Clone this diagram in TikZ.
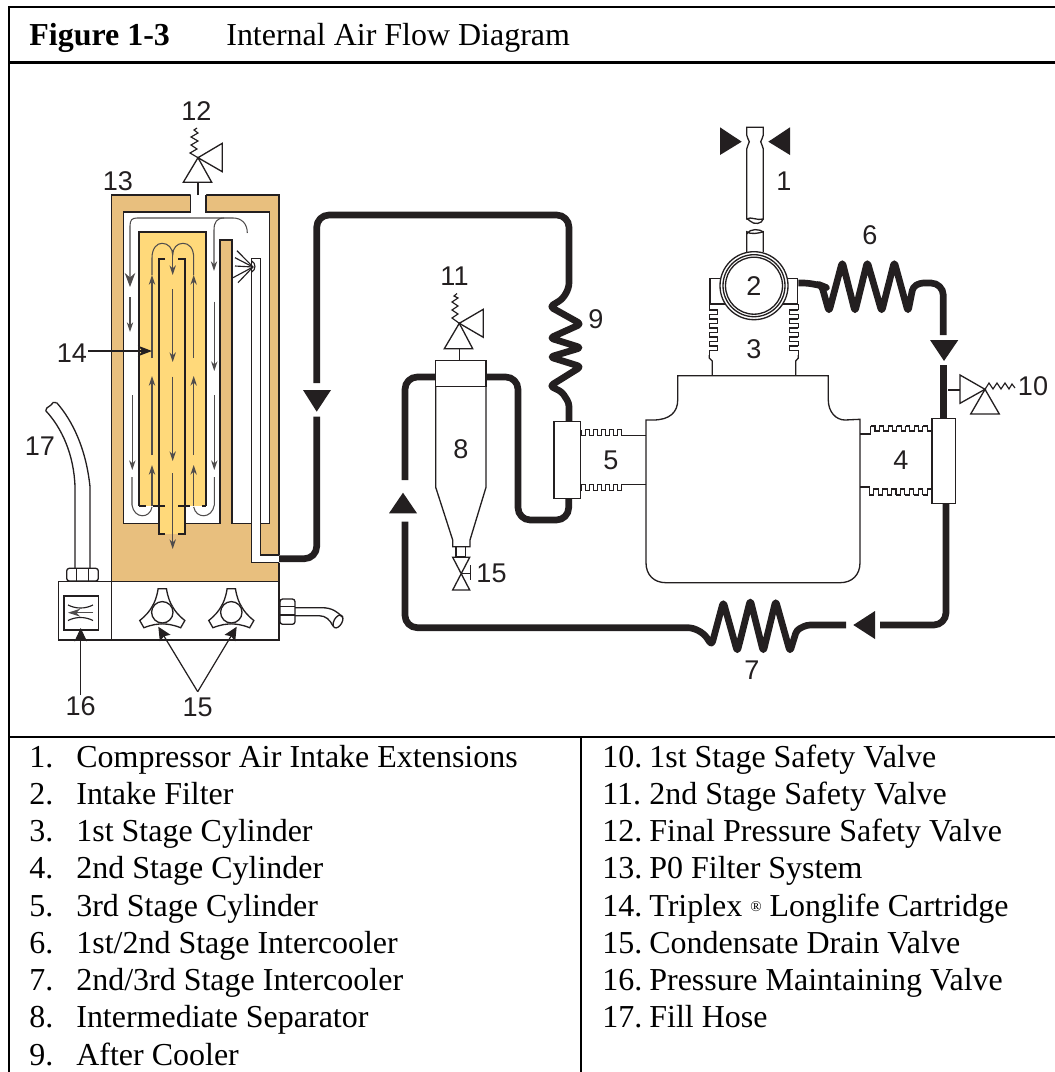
\documentclass[tikz,border=0pt]{standalone}
\usepackage{fontspec}
\setmainfont{Liberation Serif}
\newfontfamily\labelfont{Liberation Sans}
\usetikzlibrary{arrows}
\usetikzlibrary{arrows.meta}
\definecolor{filtertan}{HTML}{E8BF7E}
\definecolor{cartridgeyellow}{HTML}{FFD97A}
\definecolor{inkblack}{HTML}{231F20}
\tikzset{
	rule/.style={line width=1.3pt,black},
	part/.style={line width=0.75pt,inkblack,line join=miter},
	spring/.style={line width=0.65pt,inkblack},
	pipe/.style={line width=3.8pt,inkblack,rounded corners=7pt,line join=round},
	wall/.style={line width=1.25pt,inkblack},
	flow/.style={line width=0.6pt,inkblack!80,->,>={Stealth[length=5.5pt,width=3.6pt]}},
	leader/.style={line width=0.7pt,inkblack,->,>={Stealth[length=7.5pt,width=7pt,inset=1.2pt]}},
	tag/.style={font=\labelfont\fontsize{15.4}{18}\selectfont,text=inkblack,inner sep=0pt},
	item/.style={font=\fontsize{18.2}{21}\selectfont,anchor=base west,inner sep=0pt},
	flowmark/.style={fill=inkblack,draw=none}
}
\begin{document}
\begin{tikzpicture}[x=0.02cm,y=-0.02cm,>=stealth]
\useasboundingbox (0,0) rectangle (1055,1072);
% table frame
\draw[rule] (1055,7) -- (9,7) -- (9,1072);
\draw[rule] (9,62.5) -- (1055,62.5);
\draw[rule] (9,737) -- (1055,737);
\draw[rule] (581,737) -- (581,1072);
\node[item,font=\bfseries\fontsize{18.2}{21}\selectfont] (figno) at (29,45) {Figure 1-3};
\node[item] (figtitle) at (226,45) {Internal Air Flow Diagram};
\foreach \num/\itm [count=\r] in {1/Compressor Air Intake Extensions,2/Intake Filter,3/1st Stage Cylinder,4/2nd Stage Cylinder,5/3rd Stage Cylinder,6/{1st/2nd Stage Intercooler},7/{2nd/3rd Stage Intercooler},8/Intermediate Separator,9/After Cooler}
{
	\node[item] (leftnum\num) at (29,{767+37.25*(\r-1)}) {\num.};
	\node[item] (leftitem\num) at (76,{767+37.25*(\r-1)}) {\itm};
}
\foreach \num/\itm [count=\r] in {10/1st Stage Safety Valve,11/2nd Stage Safety Valve,12/Final Pressure Safety Valve,13/P0 Filter System,14/{Triplex {\raisebox{2.5pt}{\fontsize{8.5}{8.5}\selectfont ®}} Longlife Cartridge},15/Condensate Drain Valve,16/Pressure Maintaining Valve,17/Fill Hose}
{
	\node[item] (rightnum\num) at (602,{767+37.25*(\r-1)}) {\num.};
	\node[item] (rightitem\num) at (649,{767+37.25*(\r-1)}) {\itm};
}
% filter housing
\fill[filtertan] (111.7,195) rectangle (279,581.7);
\draw[part] (190.7,195) -- (111.7,195) -- (111.7,581.7);
\draw[part] (206,195) -- (279,195) -- (279,555);
\draw[part] (279,562.7) -- (279,581.7);
\fill[white] (190.7,194) -- (206,194) -- (206,212) -- (269.3,212) -- (269.3,523.7) -- (232,523.7) -- (232,240) -- (220,240) -- (220,523.7) -- (123.7,523.7) -- (123.7,212) -- (190.7,212) -- cycle;
\draw[part] (206,195) -- (206,212) -- (269.3,212) -- (269.3,523.7) -- (232,523.7) -- (232,240) -- (220,240) -- (220,523.7) -- (123.7,523.7) -- (123.7,212) -- (190.7,212) -- (190.7,195);
% cartridge
\fill[cartridgeyellow] (139,231.7) rectangle (206,506);
\fill[cartridgeyellow] (159.3,500) rectangle (184.7,534);
\draw[wall] (139,506) -- (139,231.7) -- (206,231.7) -- (206,506);
\draw[wall] (139,506) -- (146,506);
\draw[wall] (153,506) -- (165,506);
\draw[wall] (178,506) -- (190,506);
\draw[wall] (202,506) -- (206,506);
\draw[wall] (165,259) -- (159.3,259) -- (159.3,534) -- (165,534);
\draw[wall] (178,259) -- (184.7,259) -- (184.7,534) -- (178,534);
% spray tube
\fill[white] (251.7,258.7) -- (260.7,258.7) -- (260.7,555) -- (279,555) -- (279,562.7) -- (251.7,562.7) -- cycle;
\draw[part] (279,555) -- (260.7,555) -- (260.7,258.7) -- (251.7,258.7) -- (251.7,562.7) -- (279,562.7);
\draw[spring] (251.7,261) .. controls (256,263) and (256,270) .. (251.7,272);
\foreach \tx/\ty in {237/250.7,235/257.7,235/266,233/277.7,238/282.7}
	\draw[spring] (253,267) -- (\tx,\ty);
% flow inside filter
\draw[flow,>={Stealth[length=8pt,width=6pt]}] (233,218) -- (137,218) .. controls (132,218) and (130,220) .. (130,226) -- (130,287);
\draw[line width=0.6pt,inkblack!80] (233,218) .. controls (242,218) and (247.3,224) .. (247.3,233);
\draw[flow] (224,218) .. controls (217,218) and (214,222) .. (214,230) -- (214,271);
\draw[flow] (130,297.3) -- (130,332);
\draw[flow] (132.3,395) -- (132.3,470);
\draw[flow] (214.3,301.7) -- (214.3,371);
\draw[flow] (214.3,395) -- (214.3,470);
\draw[line width=0.6pt,inkblack!80] (132,477) -- (132,505) .. controls (134,519) and (150,519) .. (152,507);
\draw[line width=0.6pt,inkblack!80] (214.3,477) -- (214.3,505) .. controls (212,519) and (196,519) .. (193.7,507);
\foreach \fx in {152,193.7}
{
	\draw[flow] (\fx,358) -- (\fx,275);
	\draw[flow] (\fx,455) -- (\fx,376);
	\draw[flow] (\fx,506) -- (\fx,465);
}
\draw[line width=0.6pt,inkblack!80] (152,275) -- (152,258) .. controls (152,248) and (157,243.3) .. (162,243.3) .. controls (168,243.3) and (172.7,248) .. (172.7,255) .. controls (172.7,248) and (177,243.3) .. (183,243.3) .. controls (189,243.3) and (193.7,248) .. (193.7,258) -- (193.7,275);
\draw[flow] (172.7,250) -- (172.7,275);
\draw[flow] (172.7,289) -- (172.7,362);
\draw[flow] (172.7,376.7) -- (172.7,461);
\draw[flow] (172.7,473) -- (172.7,549);
% valve on filter
\draw[part] (198,195) -- (198,182.3);
\draw[part] (183.3,182.3) -- (211.7,182.3) -- (198,157.7) -- cycle;
\draw[part] (198,157.7) -- (222.3,143.3) -- (222.3,171.7) -- cycle;
\draw[spring] (198,157.7) -- (190,153) -- (197,149) -- (191,145) -- (198,141) -- (191,137) -- (198,133) -- (194,130) -- (197,128);
\node[tag] (tagtwelve) at (196.5,111) {12};
\node[tag] (tagthirteen) at (118,181) {13};
\node[tag] (tagfourteen) at (72,353) {14};
\coordinate (cartridgemark) at (152,351);
\draw[leader,>={Stealth[length=8pt,width=6pt]}] (tagfourteen) ++(16,-2) -- (cartridgemark);
% fill hose
\draw[part] (75,568) -- (75,486.7) .. controls (74,455) and (62,428) .. (45.7,410.7);
\draw[part] (90,568) -- (90,486.7) .. controls (86,448) and (72,420) .. (56.7,402.7);
\draw[part] (45.7,410.7) .. controls (47,405) and (50,408) .. (51,405) .. controls (52,402) and (54,402) .. (56.7,402.7);
\draw[part,fill=white,rounded corners=1.5pt] (66.7,568.3) rectangle (98.3,581);
\draw[part] (76.7,568.3) -- (76.7,581);
\draw[part] (88.3,568.3) -- (88.3,581);
\node[tag] (tagseventeen) at (40,446) {17};
% base unit
\draw[part,fill=white] (58.3,581.7) rectangle (279,640);
\draw[part] (111.7,581.7) -- (111.7,640);
\draw[part] (64,596) rectangle (98.7,630);
\draw[spring] (68,605) .. controls (76,609) and (85,609) .. (93,605);
\draw[spring] (68,620.5) .. controls (76,616.5) and (85,616.5) .. (93,620.5);
\draw[flow,>={Stealth[length=7pt,width=4.5pt]}] (93,612.7) -- (68,612.7);
\foreach \kx/\kname in {162.3/knobleft,231.3/knobright}
{
	\coordinate (\kname) at (\kx,612.3);
	\draw[part] (\kname) circle (10.7);
	\foreach \a in {-90,30,150}
		\draw[part,shift={(\kname)}] (\a-60:11.7) .. controls (\a-38:12.5) and (\a-20:16) .. (\a-10:24) -- (\a+10:24) .. controls (\a+20:16) and (\a+38:12.5) .. (\a+60:11.7);
}
\node[tag] (tagsixteen) at (80.7,706) {16};
\node[tag] (tagfifteen) at (197.7,707) {15};
\coordinate (leaderjoin) at (197.7,691.7);
\coordinate (knobleftmark) at (158.3,626.7);
\coordinate (knobrightmark) at (236.7,626.7);
\coordinate (orificemark) at (80.7,628);
\draw[leader] (leaderjoin) -- (knobleftmark);
\draw[leader] (leaderjoin) -- (knobrightmark);
\draw[leader] (tagsixteen.north) ++(0,-1) -- (orificemark);
% outlet
\draw[part,rounded corners=1.5pt] (280,599) rectangle (295,624.3);
\draw[part] (280,606.7) -- (295,606.7);
\draw[part] (280,615) -- (295,615);
\draw[part] (295,607.7) -- (322,607.7) .. controls (332,607.7) and (338,612) .. (342,617);
\draw[part] (295,615.7) -- (319,615.7) .. controls (326,615.7) and (330,620) .. (333,626);
\draw[part,rotate around={-30:(338,621.5)}] (338,621.5) ellipse (4 and 7);
% pipe out of filter
\coordinate (filterout) at (279,558.7);
\coordinate (aircoolertop) at (569,421.7);
\draw[pipe] (filterout) -- (316.7,558.7) -- (316.7,416.7);
\draw[pipe] (316.7,383) -- (316.7,215) -- (569,215) -- (569,295) [rounded corners=2pt] -- (550,306.7) -- (581,324) -- (550,338) -- (581,347.7) -- (550,357) -- (581,366.7) -- (550,386) -- (562,392) -- (569,403) -- (aircoolertop);
\fill[flowmark] (303,390) -- (331,390) -- (316.7,411.7) -- cycle;
\node[tag] (tagnine) at (596,319) {9};
% third stage manifold
\draw[part,fill=white] (554,421.7) rectangle (580.3,498.7);
\draw[pipe] (568.7,498.7) -- (568.7,520) -- (518,520) -- (518,377) -- (486,377);
\node[tag] (tageleven) at (454.5,276) {11};
% separator
\draw[part] (435.7,360.3) rectangle (486,386.7);
\draw[part] (435.7,386.7) -- (435.7,487.3) -- (452.7,540) -- (452.7,546.7) -- (470,546.7) -- (470,540) -- (486,487.3) -- (486,386.7);
\draw[part] (456,546.7) rectangle (465.3,556.7);
\draw[part] (452.7,557.3) -- (469.7,557.3) -- (452.7,590) -- (469.7,590) -- cycle;
\draw[part] (461.2,573.6) -- (470.7,573.6);
\draw[part] (470.7,565) -- (470.7,580);
\node[tag] (tageight) at (461,449) {8};
\node[tag] (tagdrain) at (491.5,573) {15};
\draw[part] (459.3,360.3) -- (459.3,348.7);
\draw[part] (444.3,348.7) -- (472.7,348.7) -- (459.3,323.3) -- cycle;
\draw[part] (459.3,323.3) -- (483.3,309.3) -- (483.3,337.3) -- cycle;
\draw[spring] (459.3,323.3) -- (452,318) -- (458,314) -- (452,310) -- (458,306) -- (452,302) -- (458,298) -- (454,296) -- (457,293.5);
% return pipe
\draw[pipe] (435.7,377) -- (405,377) -- (405,480);
\fill[flowmark] (389,513.3) -- (417,513.3) -- (403,492.7) -- cycle;
\draw[pipe] (405,521.7) -- (405,627.7) -- (700,627.7) [rounded corners=2pt] -- (711.7,645) -- (723.3,601.7) -- (737.3,651.7) -- (750.3,600) -- (763.3,651.7) -- (775.7,600.7) -- (790,651.7) -- (796.7,630) -- (806.7,625) [rounded corners=0pt] -- (846,625);
\node[tag] (tagseven) at (752,670) {7};
\fill[flowmark] (875,611) -- (875,639) -- (853.3,625) -- cycle;
\draw[pipe] (880,625) -- (946,625) -- (946,503.3);
% second stage manifold
\draw[part,fill=white] (932,418.3) rectangle (955.7,503.3);
\draw[line width=3.8pt,inkblack] (943.7,418.3) -- (943.7,365);
\fill[flowmark] (930,340) -- (958.3,340) -- (944,361) -- cycle;
\draw[pipe] (798.3,283) -- (815,283) [rounded corners=2pt] -- (821.7,285.7) -- (829,311.7) -- (842.3,261.7) -- (855,311.7) -- (867.3,261.7) -- (881.7,311.7) -- (894.3,261.7) -- (908,311.7) -- (913,287) -- (920,283) [rounded corners=7pt] -- (943.3,283) -- (943.3,335);
\node[tag] (tagsix) at (870,235) {6};
\node[tag] (tagten) at (1033,386.5) {10};
\node[tag] (tagfour) at (901,460) {4};
\node[tag] (tagfive) at (611,460) {5};
\node[tag] (tagthree) at (754,349) {3};
\node[tag] (tagone) at (784,181) {1};
% safety valve on second stage
\draw[part] (948,390) -- (960,390);
\draw[part] (960,375) -- (960,403.3) -- (985,389.3) -- cycle;
\draw[part] (985,389.3) -- (970.7,414) -- (999.3,414) -- cycle;
\draw[spring] (985,389.3) -- (989,383) -- (993,389) -- (997,383) -- (1001,389) -- (1005,383) -- (1009,389) -- (1012,384) -- (1015,388);
% crankcase
\draw[part] (646,435) -- (646,420) -- (653,420) .. controls (670,420) and (677.7,412) .. (677.7,400) -- (677.7,375.7) -- (828.3,375.7) -- (828.3,400) .. controls (828.3,412) and (836,420) .. (845,420) -- (860,419.3) -- (860,562.7) .. controls (860,575) and (852,582.7) .. (840,582.7) -- (666,582.7) .. controls (654,582.7) and (646,575) .. (646,562.7) -- cycle;
% fins of the cylinders, drawn tooth by tooth
\draw[part] (860,434) -- (870.7,434) -- (870.7,426);
\draw[part] (860,487) -- (869.3,487) -- (869.3,495);
\foreach \fx in {0,...,6}
{
	\draw[spring] ({870.7+8.7*\fx},426) -- ({875+8.7*\fx},426) -- ({875+8.7*\fx},431) -- ({879.4+8.7*\fx},431) -- ({879.4+8.7*\fx},426);
	\draw[spring] ({869.3+8.9*\fx},495) -- ({873.7+8.9*\fx},495) -- ({873.7+8.9*\fx},489) -- ({878.2+8.9*\fx},489) -- ({878.2+8.9*\fx},495);
}
\draw[part] (646,435.3) -- (621.7,435.3) -- (621.7,429.5);
\draw[part] (646,484.3) -- (621.7,484.3) -- (621.7,490.7);
\foreach \fx in {0,...,4}
{
	\draw[spring] ({621.7-8*\fx},429.5) -- ({617.7-8*\fx},429.5) -- ({617.7-8*\fx},435.3) -- ({613.7-8*\fx},435.3) -- ({613.7-8*\fx},429.5);
	\draw[spring] ({621.7-8*\fx},490.7) -- ({617.7-8*\fx},490.7) -- ({617.7-8*\fx},484.3) -- ({613.7-8*\fx},484.3) -- ({613.7-8*\fx},490.7);
}
% first stage cylinder
\draw[part] (712.3,375.7) -- (712.3,361) -- (709.3,358) -- (709.3,355);
\draw[part] (795.7,375.7) -- (795.7,361) -- (798.3,358) -- (798.3,355);
\draw[spring] (709.3,304) -- (709.3,310);
\draw[spring] (798.3,304) -- (798.3,310);
\foreach \fy in {0,...,4}
{
	\draw[spring] (709.3,{310+9*\fy}) -- (717.5,{310+9*\fy}) -- (717.5,{314.5+9*\fy}) -- (709.3,{314.5+9*\fy}) -- (709.3,{319+9*\fy});
	\draw[spring] (798.3,{310+9*\fy}) -- (789.8,{310+9*\fy}) -- (789.8,{314.5+9*\fy}) -- (798.3,{314.5+9*\fy}) -- (798.3,{319+9*\fy});
}
\draw[part] (710,304) -- (710,278.3) -- (797.7,278.3) -- (797.7,304) -- cycle;
% intake filter
\draw[part,fill=white] (754,285.7) circle (34);
\draw[part] (754,285.7) circle (31);
\draw[part] (754,285.7) circle (28.5);
\node[tag] (tagtwo) at (754,286) {2};
% intake extension
\draw[part] (746.7,252) -- (746.7,231.7) .. controls (750,235) and (760,233) .. (763.3,231.7) -- (763.3,252);
\draw[part] (746.7,234) .. controls (750,228) and (760,229) .. (763.3,232);
\draw[part] (746.7,127.3) -- (763.3,127.3) -- (763.3,135) .. controls (763.3,138) and (760.7,140) .. (760.7,141.7) .. controls (760.7,144) and (763.3,146) .. (763.3,149) -- (763.3,219) .. controls (762,224) and (754,225) .. (750,221) .. controls (749,220) and (748,219) .. (746.7,219) -- (746.7,149) .. controls (746.7,146) and (749.3,144) .. (749.3,141.7) .. controls (749.3,140) and (746.7,138) .. (746.7,135) -- cycle;
\draw[part] (746.7,219) .. controls (751,216) and (757,221) .. (763.3,219);
\fill[flowmark] (720,127.3) -- (720,155) -- (741.7,141.7) -- cycle;
\fill[flowmark] (790,127.3) -- (790,155) -- (768.3,141.7) -- cycle;
\end{tikzpicture}
\end{document}
